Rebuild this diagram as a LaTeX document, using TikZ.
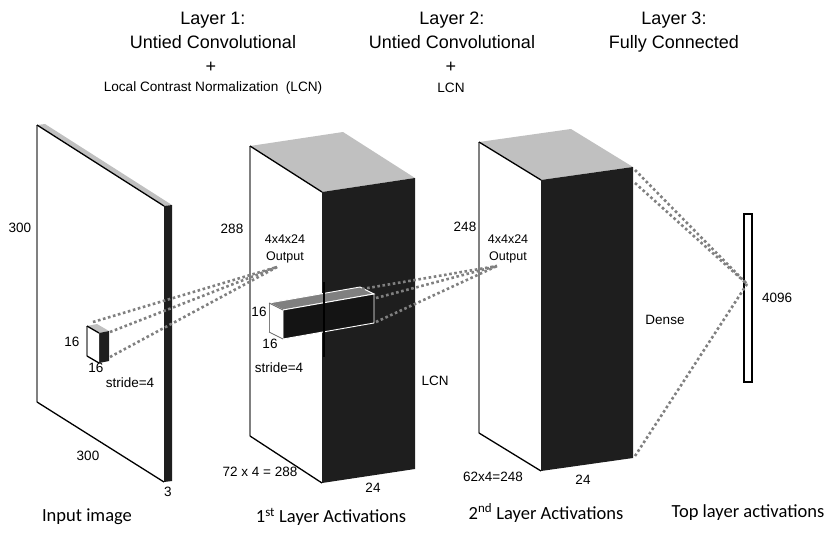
\documentclass[tikz,border=0pt]{standalone}
\usepackage{fontspec}
\setmainfont{Liberation Sans}
\newfontfamily\calibri{Carlito}
\usetikzlibrary{calc,positioning}
\definecolor{topgray}{HTML}{C0C0C0}
\definecolor{sidedark}{HTML}{1E1E1E}
\definecolor{dotgray}{HTML}{808080}

\begin{document}
\begin{tikzpicture}[
  x=1pt, y=-1pt,
  head/.style={font=\fontsize{18}{24}\selectfont, anchor=base, inner sep=0pt},
  note/.style={font=\fontsize{12.5}{17}\selectfont, align=center, inner sep=0pt},
  lbl/.style={font=\fontsize{13.5}{15}\selectfont, inner sep=0pt},
  plus/.style={font=\fontsize{18}{18}\selectfont, inner sep=0pt},
  caption/.style={font=\calibri\fontsize{18.5}{20}\selectfont, inner sep=0pt},
  edge/.style={draw=black, line width=1.3pt},
  leftedge/.style={draw=dotgray, line width=1.6pt},
  rim/.style={draw=white, line width=0.9pt},
  link/.style={draw=dotgray, line width=2.6pt, dash pattern=on 2.6pt off 2.6pt},
  bar/.style={draw=black, line width=1.6pt, minimum width=8pt, minimum height=168pt, inner sep=0pt}
]
\useasboundingbox (0,0) rectangle (838,538);

% --------------------
% Input image
% --------------------
\coordinate (inA) at (37,125);
\coordinate (inB) at (164,206);
\coordinate (inC) at (164,482);
\coordinate (inD) at (37,402);
\fill[white] (inA) -- (inB) -- (inC) -- (inD) -- cycle;
\fill[topgray] (inA) -- ($(inA)+(8,-1)$) -- ($(inB)+(8,-1)$) -- (inB) -- cycle;
\fill[sidedark] (inB) -- ($(inB)+(8,-1)$) -- ($(inC)+(8,-1)$) -- (inC) -- cycle;
\draw[leftedge] (inA) -- (inD);
\draw[edge] (inA) -- (inB);
\draw[edge] (inD) -- (inC);

% kernel on the input
\coordinate (kA) at (87,326);
\coordinate (kB) at (99,333);
\coordinate (kC) at (99,363);
\coordinate (kD) at (87,356);
\fill[topgray] (kA) -- ($(kA)+(10,-2)$) -- ($(kB)+(10,-2)$) -- (kB) -- cycle;
\fill[sidedark] (kB) -- ($(kB)+(10,-2)$) -- ($(kC)+(10,-2)$) -- (kC) -- cycle;
\fill[white] (kA) -- (kB) -- (kC) -- (kD) -- cycle;
\draw[leftedge] (kA) -- (kD);
\draw[edge] (kA) -- (kB);
\draw[edge] (kD) -- (kC);

% --------------------
% 1st layer block
% --------------------
\coordinate (aA) at (250,146);
\coordinate (aB) at (322,192);
\coordinate (aC) at (322,483);
\coordinate (aD) at (250,436);
\fill[white] (aA) -- (aB) -- (aC) -- (aD) -- cycle;
\fill[topgray] (aA) -- ($(aA)+(93,-14)$) -- ($(aB)+(93,-14)$) -- (aB) -- cycle;
\fill[sidedark] (aB) -- ($(aB)+(93,-14)$) -- ($(aC)+(93,-14)$) -- (aC) -- cycle;
\draw[leftedge] (aA) -- (aD);
\draw[edge] (aA) -- (aB);
\draw[edge] (aD) -- (aC);

% filter bar inside the 1st layer
\coordinate (fA) at (269,303);
\coordinate (fB) at (283,310);
\coordinate (fC) at (283,339);
\coordinate (fD) at (269,332);
\fill[dotgray, rim] (fA) -- ($(fA)+(91,-16)$) -- ($(fB)+(91,-16)$) -- (fB) -- cycle;
\fill[black!92, rim] (fB) -- ($(fB)+(91,-16)$) -- ($(fC)+(91,-16)$) -- (fC) -- cycle;
\fill[white] (fA) -- (fB) -- (fC) -- (fD) -- cycle;
\draw[leftedge, line width=0.9pt] (fA) -- (fD);
\draw[draw=black!60, line width=0.8pt] (fA) -- (fB) (fD) -- (fC);

\coordinate (cutT) at (324,282);
\coordinate (cutB) at (324,357);
\draw[edge, line width=1.5pt] (cutT) -- (cutB);

% --------------------
% 2nd layer block
% --------------------
\coordinate (bA) at (479,142);
\coordinate (bB) at (541,180);
\coordinate (bC) at (541,471);
\coordinate (bD) at (479,433);
\fill[white] (bA) -- (bB) -- (bC) -- (bD) -- cycle;
\fill[topgray] (bA) -- ($(bA)+(92,-13)$) -- ($(bB)+(92,-13)$) -- (bB) -- cycle;
\fill[sidedark] (bB) -- ($(bB)+(92,-13)$) -- ($(bC)+(92,-13)$) -- (bC) -- cycle;
\draw[leftedge] (bA) -- (bD);
\draw[edge] (bA) -- (bB);
\draw[edge] (bD) -- (bC);

% --------------------
% Top layer
% --------------------
\node[bar] (top) at (748,298) {};

% --------------------
% Dotted links
% --------------------
\coordinate (out1) at (277,267);
\coordinate (out2) at (497,266);
\coordinate (hub) at (747,284);
\coordinate (bTR) at ($(bB)+(94,-10)$);
\coordinate (bMR) at ($(bB)+(94,3)$);
\coordinate (bBR) at ($(bC)+(94,-15)$);

\draw[link] ($(kA)+(6,-4)$) -- (out1);
\draw[link] ($(kB)+(11,-1)$) -- (out1);
\draw[link] ($(kC)+(11,-6)$) -- (out1);

\draw[link] ($(fA)+(93,-14)$) -- (out2);
\draw[link] ($(fB)+(93,-12)$) -- (out2);
\draw[link] ($(fC)+(93,-17)$) -- (out2);

\draw[link] (bTR) -- (hub);
\draw[link] (bMR) -- (hub);
\draw[link] (bBR) -- (hub);

% --------------------
% Labels
% --------------------
\node[head] (head1) at (213,24.5) {Layer 1:};
\node[head] (sub1) at (213,48.5) {Untied Convolutional};
\node[plus] (plus1) at (211,67) {+};
\node[note, font=\fontsize{13.6}{17}\selectfont] (norm1) at (213,88) {Local Contrast Normalization\ \ (LCN)};
\node[head] (head2) at (452,24.5) {Layer 2:};
\node[head] (sub2) at (452,48.5) {Untied Convolutional};
\node[plus] (plus2) at (451,67) {+};
\node[note, font=\fontsize{13.6}{17}\selectfont] (norm2) at (451,88) {LCN};
\node[head] (head3) at (674,24.5) {Layer 3:};
\node[head] (sub3) at (674,48.5) {Fully Connected};

\node[lbl] at (20,228) {300};
\node[lbl] at (88,456) {300};
\node[lbl] at (168,492) {3};
\node[lbl] at (72,342) {16};
\node[lbl] at (96,368) {16};
\node[lbl] at (130,383) {stride=4};

\node[lbl] at (232,229) {288};
\node[note] at (285,249) {4x4x24\\Output};
\node[lbl] at (259,312) {16};
\node[lbl] at (270,344) {16};
\node[lbl] at (279,368) {stride=4};
\node[lbl] at (435,381) {LCN};
\node[lbl] at (260,472) {72 x 4 = 288};
\node[lbl] at (373,488) {24};

\node[lbl] at (465,227) {248};
\node[note] at (508,249) {4x4x24\\Output};
\node[lbl] at (493,477) {62x4=248};
\node[lbl] at (583,480) {24};
\node[lbl] at (665,320) {Dense};
\node[lbl, right=14pt of top.center] {4096};

\node[caption] (capin) at (87,517) {Input image};
\node[caption] (cap1) at (331,517) {1\textsuperscript{st} Layer Activations};
\node[caption] (cap2) at (546,513) {2\textsuperscript{nd} Layer Activations};
\node[caption] (cap3) at (748,513) {Top layer activations};

\end{tikzpicture}
\end{document}
